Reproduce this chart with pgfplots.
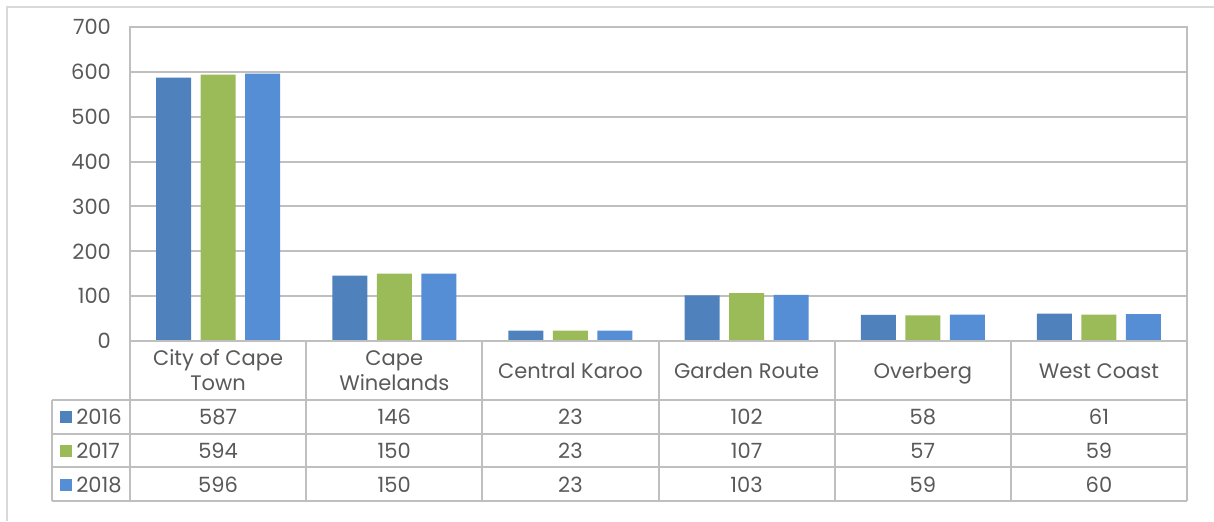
\documentclass[border=0pt]{standalone}
\usepackage{pgfplots}
\pgfplotsset{compat=1.18}
\usepackage{pgfplotstable}
\usepackage{fontspec}
\setmainfont{Poppins}
\definecolor{c16}{HTML}{4F81BD}
\definecolor{c17}{HTML}{9BBB59}
\definecolor{c18}{HTML}{558ED5}
\definecolor{gridc}{HTML}{BFBFBF}
\definecolor{framec}{HTML}{D9D9D9}
\definecolor{txt}{HTML}{595959}

\pgfplotstableread{
x y2016 y2017 y2018
0 587 594 596
1 146 150 150
2 23 23 23
3 102 107 103
4 58 57 59
5 61 59 60
}\data

\begin{document}
\begin{tikzpicture}[x=0.5pt,y=-0.5pt, font=\fontsize{10.5}{12.5}\selectfont]
\useasboundingbox (0,0) rectangle (1214,521);
\draw[framec, line width=1pt] (7,521) -- (7,7) -- (1214,7);
\coordinate (O) at (130,341);
\begin{axis}[at={(O)}, anchor=south west,
  width=528.5pt, height=157pt, scale only axis,
  xmin=-0.5, xmax=5.5, ymin=0, ymax=700,
  ytick={0,100,...,700}, xtick=\empty,
  ymajorgrids, grid style={gridc, line width=1pt},
  axis line style={gridc, line width=1pt},
  major tick style={draw=none},
  yticklabel style={font=\fontsize{10.5}{12}\selectfont, text=txt, xshift=-6pt},
  /pgf/number format/assume math mode=true,
  ybar, bar width=17.5pt,
  clip=false]
\addplot[fill=c16, draw=none, bar shift=-22.25pt] table[x=x,y=y2016]{\data};
\addplot[fill=c17, draw=none, bar shift=0pt] table[x=x,y=y2017]{\data};
\addplot[fill=c18, draw=none, bar shift=22.25pt] table[x=x,y=y2018]{\data};
\end{axis}
% data table
\begin{scope}[gridc, line width=1pt]
\draw (130,341) -- (1187,341);
\draw (52,400) -- (1187,400);
\draw (52,434) -- (1187,434);
\draw (52,467) -- (1187,467);
\draw (52,501) -- (1187,501);
\draw (52,400) -- (52,501);
\draw (130,341) -- (130,501);
\draw (1187,341) -- (1187,501);
\foreach \k in {1,...,5} \draw ({130+176.17*\k},341) -- ({130+176.17*\k},501);
\end{scope}
\begin{scope}[text=txt, every node/.style={anchor=base, inner sep=0pt}]
\node at (218.1,365) {City of Cape};
\node at (218.1,390) {Town};
\node at (394.3,365) {Cape};
\node at (394.3,390) {Winelands};
\node at (570.4,378) {Central Karoo};
\node at (746.6,378) {Garden Route};
\node at (922.8,378) {Overberg};
\node at (1098.9,378) {West Coast};
\foreach \v [count=\i from 0] in {587,146,23,102,58,61} \node at ({218.1+176.17*\i},424) {\v};
\foreach \v [count=\i from 0] in {594,150,23,107,57,59} \node at ({218.1+176.17*\i},458) {\v};
\foreach \v [count=\i from 0] in {596,150,23,103,59,60} \node at ({218.1+176.17*\i},492) {\v};
\fill[c16] (60,411) rectangle (72,423);
\fill[c17] (60,445) rectangle (72,457);
\fill[c18] (60,479) rectangle (72,491);
\node[anchor=base west] at (76,424) {2016};
\node[anchor=base west] at (76,458) {2017};
\node[anchor=base west] at (76,492) {2018};
\end{scope}
\end{tikzpicture}
\end{document}
